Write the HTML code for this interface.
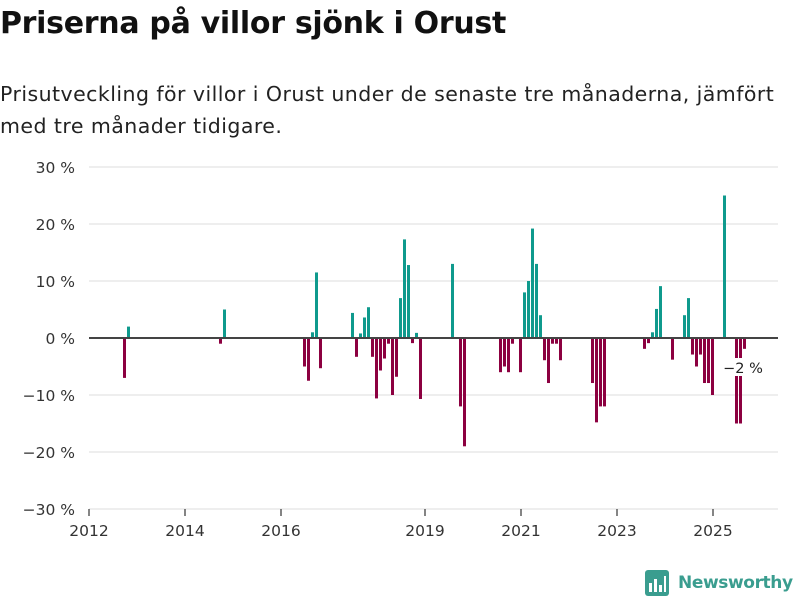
<!DOCTYPE html>
<html><head><meta charset="utf-8">
<style>
body{margin:0;width:800px;height:600px;background:#fff;font-family:"DejaVu Sans",sans-serif;overflow:hidden;position:relative}
h1{position:absolute;left:0;top:6px;margin:0;font-size:30px;font-weight:bold;color:#111;letter-spacing:-0.3px;white-space:nowrap}
.sub{position:absolute;left:0;top:78px;margin:0;font-size:20.5px;line-height:32px;color:#222;white-space:nowrap;letter-spacing:0.45px}
</style></head><body>
<h1>Priserna på villor sjönk i Orust</h1>
<p class="sub">Prisutveckling för villor i Orust under de senaste tre månaderna, jämfört<br>med tre månader tidigare.</p>
<svg id="chart" width="800" height="600" style="position:absolute;left:0;top:0"></svg>
<div style="position:absolute;left:645px;top:570px;display:flex;align-items:center">
  <svg width="24" height="26"><rect x="0" y="0" width="24" height="26" rx="3" fill="#3a9d8f"/><rect x="4" y="13" width="3" height="9" fill="#fff"/><rect x="9" y="9" width="3" height="13" fill="#fff"/><rect x="14" y="15" width="3" height="7" fill="#fff"/><rect x="19" y="6" width="2" height="16" fill="#fff"/></svg>
  <span style="margin-left:9px;font-size:17px;font-weight:bold;color:#3a9d8f;font-family:'DejaVu Sans',sans-serif;letter-spacing:-0.4px">Newsworthy</span>
</div>
<script>
// months since Jan 2012
const months=[8,9,32,33,53,54,55,56,57,65,66,67,68,69,70,71,72,73,74,75,76,77,78,79,80,81,82,90,92,93,102,103,104,105,107,108,109,110,111,112,113,114,115,116,117,125,126,127,128,138,139,140,141,142,145,148,149,150,151,152,153,154,155,158,161,162,163];
const values=[-7,2,-1,5,-5,-7.5,1,11.5,-5.3,4.4,-3.3,0.8,3.6,5.4,-3.3,-10.6,-5.7,-3.6,-1,-10,-6.8,7,17.3,12.8,-0.9,0.9,-10.7,13,-12,-19,-6,-5,-6,-1,-6,8,10,19.2,13,4,-3.9,-7.9,-1,-1,-3.9,-7.9,-14.8,-12,-12,-1.9,-0.9,1,5.1,9.1,-3.8,4,7,-2.9,-5,-2.9,-7.9,-7.9,-10,25,-15,-15,-1.9];
const yTicks=[30,20,10,0,-10,-20,-30];
const yTickLabels=["30 %","20 %","10 %","0 %","−10 %","−20 %","−30 %"];
const xTickYears=[2012,2014,2016,2019,2021,2023,2025];
const lastLabel="−2 %";
const NS="http://www.w3.org/2000/svg";
const svg=document.getElementById('chart');
const x=m=>89+4*m;
const y=v=>338-v*5.7;
function mk(t,a){const e=document.createElementNS(NS,t);for(const k in a)e.setAttribute(k,a[k]);svg.appendChild(e);return e;}
yTicks.forEach((v,i)=>{
  if(v!==0){const g=mk('line',{x1:89,x2:778,y1:y(v),y2:y(v),stroke:'#dcdcdc','stroke-width':1});
  
  }
  const t=mk('text',{x:75,y:y(v)+6,'text-anchor':'end','font-size':15.5,fill:'#333','font-family':'DejaVu Sans, sans-serif'});
  t.textContent=yTickLabels[i];
  
  
});
xTickYears.forEach(yr=>{
  const px=x((yr-2012)*12);
  const tk=mk('line',{x1:px,x2:px,y1:509,y2:516,stroke:'#333','stroke-width':1.2});
  
  
  const t=mk('text',{x:px,y:536,'text-anchor':'middle','font-size':15.5,fill:'#333','font-family':'DejaVu Sans, sans-serif'});
  t.textContent=String(yr);
  
  
});
months.forEach((m,i)=>{
  const v=values[i];
  const r=mk('rect',{x:x(m)+2,width:3,y:Math.min(y(v),y(0)),height:Math.abs(y(v)-y(0)),fill:v>=0?'#0f9a8d':'#8c0040'});
  
  
});
const z=mk('line',{x1:89,x2:778,y1:y(0),y2:y(0),stroke:'#444','stroke-width':2});


const lm=months[months.length-1];
const bg=mk('rect',{x:x(lm)-19,y:358,width:42,height:18,fill:'#fff'});


const lt=mk('text',{x:x(lm)+2,y:373,'text-anchor':'middle','font-size':14.5,fill:'#222','font-family':'DejaVu Sans, sans-serif'});
lt.textContent=lastLabel;


</script>
</body></html>
